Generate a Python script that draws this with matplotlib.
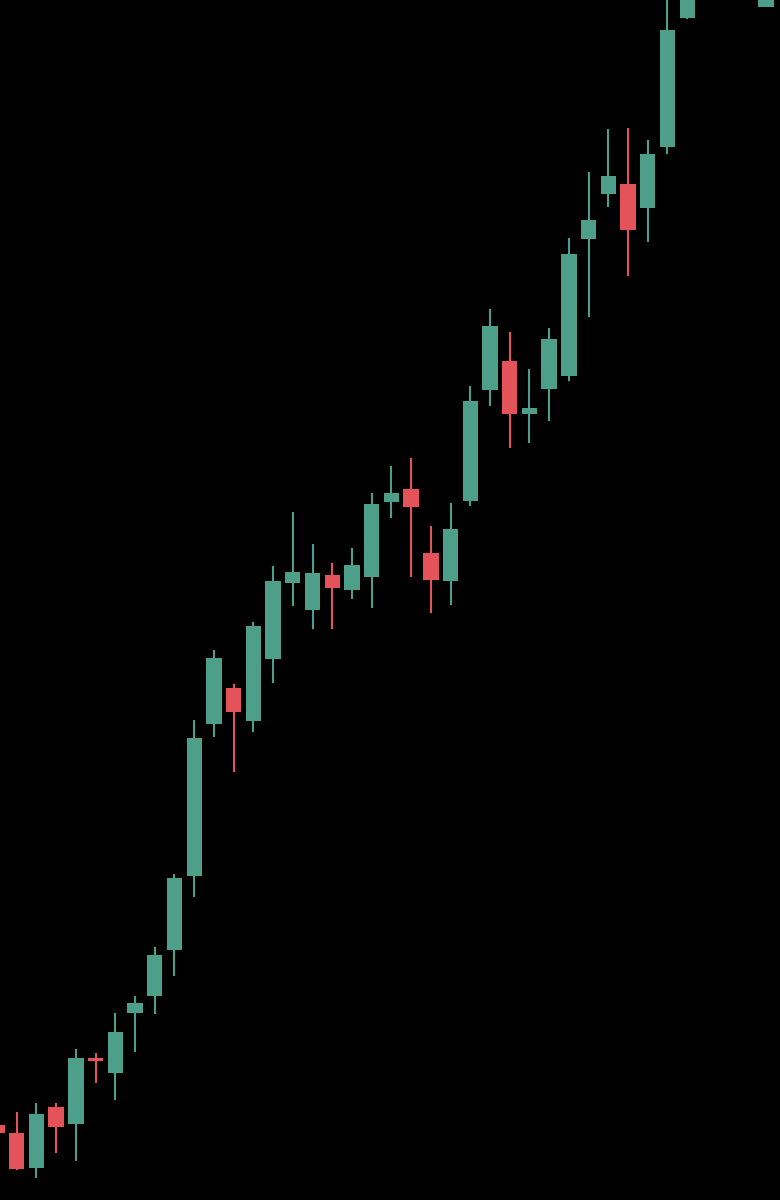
import matplotlib
matplotlib.use("Agg")
import matplotlib.pyplot as plt
import numpy as np

# Session index of each candle (sessions 36-38 lie above the visible area)
days = list(range(0, 36)) + [39]
opens = [75, 67.3, 31.7, 92.7, 76, 141.7, 126.7, 186.7, 204, 250,
         324.3, 475.7, 512.3, 479.3, 540.7, 616.7, 590, 624.7, 610, 623.3,
         697.7, 710.7, 646.7, 619, 699, 810, 839.3, 786, 810.7, 824,
         961, 1006, 1016, 992.3, 1053.3, 1181.7, 1193.3]
highs = [80, 88.3, 97.3, 97.3, 150.7, 147.3, 186.7, 204, 253.3, 326,
         480, 550, 516, 578.3, 634.3, 688.3, 656, 637.3, 652.3, 706.7,
         734, 741.7, 674, 696.7, 814, 890.7, 867.7, 830.7, 871.7, 962.3,
         1027.7, 1071, 1071.7, 1060, 1215, 1250, 1245]
lows = [62, 30, 21.7, 47.3, 39.3, 117.3, 100, 148.3, 186, 224,
        303.3, 462.7, 428.3, 468.3, 516.7, 594, 571, 570.7, 600.7, 592.3,
        682.3, 622.7, 587.3, 595, 694, 794, 752.3, 756.7, 779.3, 819,
        883.3, 993.3, 924.3, 957.7, 1046, 1180.7, 1193.3]
closes = [66.7, 30.7, 86, 72.7, 141.7, 139.3, 168.3, 196.7, 244.7, 321.7,
          461.7, 541.7, 488.3, 574.3, 619, 627.7, 626.7, 611.7, 635, 695.7,
          707.3, 693.3, 620, 671, 799, 874, 785.7, 791.7, 861, 946,
          980, 1024, 970, 1045.7, 1170, 1240, 1235]

UP = "#4d9f8a"
DOWN = "#e5535a"

fig = plt.figure(figsize=(7.8, 12), dpi=100, facecolor="black")
ax = fig.add_axes([0, 0, 1, 1])
ax.set_facecolor("black")

x = np.array(days, dtype=float)
o = np.array(opens); h = np.array(highs); l = np.array(lows); c = np.array(closes)
colors = [UP if cc >= oo else DOWN for oo, cc in zip(o, c)]

ax.vlines(x, l, h, colors=colors, linewidth=1.5, zorder=1)
bottoms = np.minimum(o, c)
heights = np.maximum(np.abs(c - o), 2.0)
ax.bar(x, heights, bottom=bottoms, width=0.78, color=colors, linewidth=0, zorder=2)

ax.set_xlim(0.152, 39.706)
ax.set_ylim(0, 1200)
ax.axis("off")

fig.savefig("out.png", dpi=100, facecolor="black")
